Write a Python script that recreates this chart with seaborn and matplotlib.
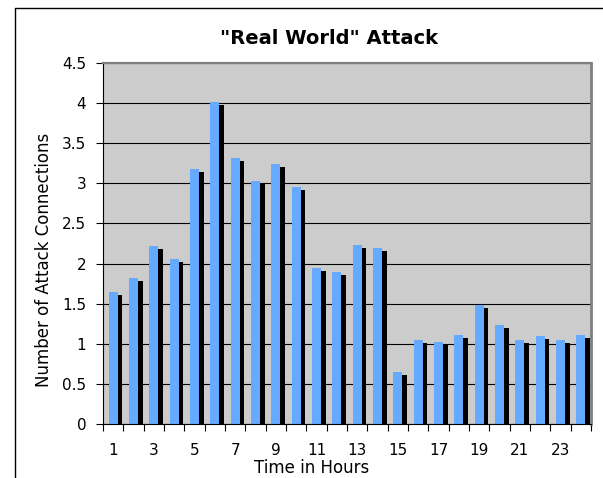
#!/usr/bin/env python3
"""Excel-style bar chart of attack connections per hour ("Real World" Attack)."""

import matplotlib
matplotlib.use("Agg")
import matplotlib.pyplot as plt
import matplotlib.patheffects as pe
from matplotlib.lines import Line2D
import pandas as pd
import seaborn as sns

HOURS = list(range(1, 25))
CONNECTIONS = [
    1.65, 1.82, 2.22, 2.06, 3.18, 4.02, 3.32, 3.03, 3.24, 2.95, 1.94, 1.90,
    2.23, 2.20, 0.65, 1.05, 1.02, 1.11, 1.48, 1.23, 1.05, 1.10, 1.05, 1.11,
]
Y_TICKS = [0, 0.5, 1, 1.5, 2, 2.5, 3, 3.5, 4, 4.5]
Y_TICK_LABELS = ["0", "0.5", "1", "1.5", "2", "2.5", "3", "3.5", "4", "4.5"]

BAR_BLUE = "#66AAFF"
PLOT_GREY = "#CCCCCC"


def main() -> None:
    sns.set_theme(style="ticks")
    plt.rcParams["font.family"] = ["DejaVu Sans"]

    df = pd.DataFrame({"hour": HOURS, "connections": CONNECTIONS})

    W, H = 603, 478
    fig = plt.figure(figsize=(W / 100, H / 100), dpi=100)
    fig.patch.set_facecolor("white")
    ax = fig.add_axes([103 / W, 1 - 424 / H, (591 - 103) / W, (424 - 63) / H])
    ax.set_facecolor(PLOT_GREY)

    sns.barplot(
        data=df, x="hour", y="connections",
        color=BAR_BLUE, saturation=1, width=0.45, linewidth=0,
        ax=ax,
    )
    # black drop shadow down-right of each bar, as in the Excel original
    for patch in ax.patches:
        patch.set_path_effects([
            pe.SimplePatchShadow(offset=(3.3, -2.2), shadow_rgbFace="black",
                                 alpha=1.0),
            pe.Normal(),
        ])

    ax.set_xlim(-0.5, len(HOURS) - 0.5)
    ax.set_ylim(0, 4.5)
    ax.set_yticks(Y_TICKS)
    ax.set_yticklabels(Y_TICK_LABELS)
    ax.yaxis.grid(True, color="black", linewidth=0.8)
    ax.set_axisbelow(True)

    # category labels on every other hour, tick marks at category boundaries
    ax.set_xticks(range(0, len(HOURS), 2))
    ax.set_xticklabels([str(h) for h in HOURS[::2]])
    ax.set_xticks([i - 0.5 for i in range(len(HOURS) + 1)], minor=True)
    ax.tick_params(axis="x", which="major", length=0, pad=14, labelsize=11,
                   colors="black")
    ax.tick_params(axis="x", which="minor", length=5, width=0.8,
                   color="black", direction="out")
    ax.tick_params(axis="y", length=5, width=0.8, pad=7, labelsize=11,
                   colors="black", direction="out")

    ax.set_xlabel("")
    ax.set_ylabel("")
    for side in ("left", "bottom"):
        ax.spines[side].set_color("black")
        ax.spines[side].set_linewidth(0.8)
    ax.spines["top"].set_visible(True)
    ax.spines["top"].set_color("#808080")
    ax.spines["top"].set_linewidth(1.6)
    ax.spines["right"].set_visible(True)
    ax.spines["right"].set_color("#808080")
    ax.spines["right"].set_linewidth(2.0)

    fig.text(329 / W, 1 - 38 / H, '"Real World" Attack', ha="center",
             va="center", fontsize=14, fontweight="bold", color="black")
    fig.text(312 / W, 1 - 468 / H, "Time in Hours", ha="center", va="center",
             fontsize=12, color="black")
    fig.text(44 / W, 1 - 260 / H, "Number of Attack Connections",
             ha="center", va="center", rotation=90, fontsize=12,
             color="black")

    # chart-area frame (only left and top edges fall inside the picture)
    fig.add_artist(Line2D([15 / W, 15 / W, 1.0], [0.0, 1 - 8 / H, 1 - 8 / H],
                          transform=fig.transFigure, color="black",
                          linewidth=1.0))

    fig.savefig("out.png", dpi=100)
    plt.close(fig)


if __name__ == "__main__":
    main()
